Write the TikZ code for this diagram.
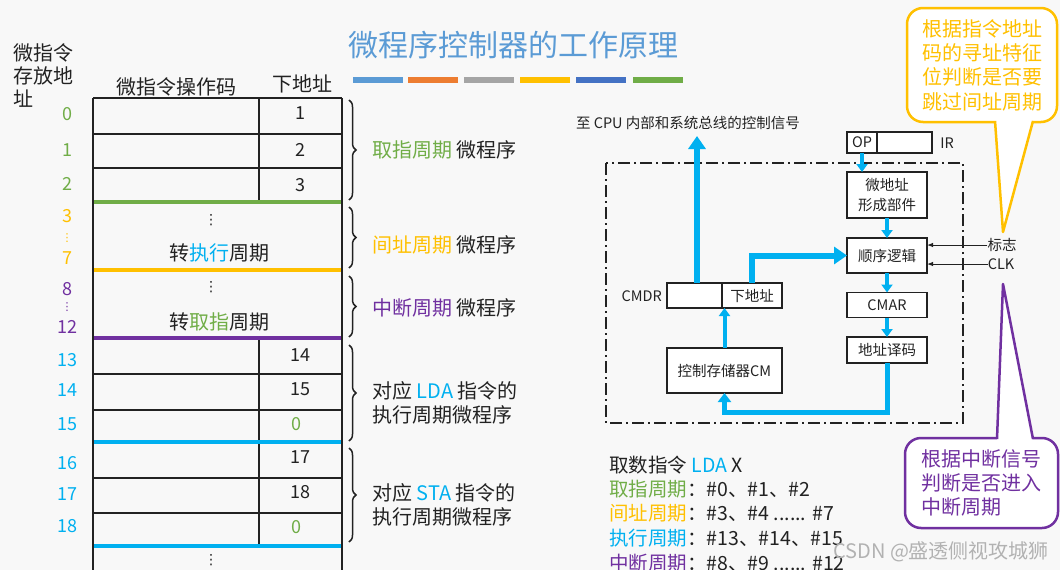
\documentclass[tikz,border=0pt]{standalone}
\usepackage{fontspec}
\setmainfont{Noto Sans CJK SC}
\newfontfamily\symfont{DejaVu Sans}
\usetikzlibrary{arrows.meta, positioning, decorations.pathreplacing}

\definecolor{ink}{HTML}{222222}
\definecolor{cgreen}{HTML}{70AD47}
\definecolor{cyellow}{HTML}{FFC000}
\definecolor{cpurple}{HTML}{7030A0}
\definecolor{cblue}{HTML}{00B0F0}
\definecolor{ctitle}{HTML}{5B9BD5}
\definecolor{corange}{HTML}{ED7D31}
\definecolor{cgrey}{HTML}{A5A5A5}
\definecolor{cnavy}{HTML}{4472C4}
\definecolor{bgc}{HTML}{F8F8F8}

\begin{document}
\begin{tikzpicture}[x=1pt, y=-1pt,
    txt/.style={inner sep=0pt, text=ink, font=\fontsize{20}{24}\selectfont},
    num/.style={inner sep=0pt, font=\fontsize{18}{20}\selectfont},
    small/.style={inner sep=0pt, text=ink, font=\fontsize{14.5}{18}\selectfont},
    dots/.style={inner sep=0pt, font=\symfont\fontsize{#1}{#1}\selectfont},
    blk/.style={draw=ink, line width=1.3pt, fill=white, align=center, inner sep=0pt,
        outer sep=0pt, text=ink, font=\fontsize{14.5}{20}\selectfont},
    bus/.style={draw=cblue, line width=6pt, -{Triangle[length=13pt, width=17pt]}},
    flow/.style={draw=cblue, line width=4pt, -{Triangle[length=8pt, width=11pt]}},
    back/.style={draw=cblue, line width=5pt, -{Triangle[length=9pt, width=13pt]}},
    sig/.style={draw=ink, line width=1pt, -{Latex[length=6pt]}},
    grp/.style={draw=ink, line width=1.5pt, decorate, decoration={brace, amplitude=7pt}},
    callbox/.style={line width=2.5pt, fill=white, rounded corners=16pt, inner sep=0pt,
        align=center, font=\fontsize{20}{24.3}\selectfont}
]
    \useasboundingbox (0,0) rectangle (1060,570);
    \fill[bgc] (0,0) rectangle (1060,570);

    % title
    \node[inner sep=0pt, text=ctitle, font=\fontsize{30}{34}\selectfont] (ttl) at (513,45) {微程序控制器的工作原理};
    \foreach \x/\c in {353/ctitle,408/corange,464/cgrey,520/cyellow,576/cnavy,633/cgreen}
        \fill[\c] (\x,77) rectangle ++(50,6);

    % storage table
    \node[txt, align=left, anchor=west] (adr) at (13,75) {微指令\\[-1pt]存放地\\[-1pt]址};
    \node[txt] (hop) at (176,87) {微指令操作码};
    \node[txt] (hnx) at (302,84) {下地址};

    \foreach \y in {98,134,168,374,410,478,513}
        \draw[line width=1.6pt, ink] (93,\y) -- (342,\y);
    \draw[line width=1.6pt, ink] (93,98) -- (93,580) (342,98) -- (342,580);
    \draw[line width=1.6pt, ink] (259,98) -- (259,202) (259,338) -- (259,546);
    \foreach \y/\c in {202/cgreen,270/cyellow,338/cpurple,442/cblue,546/cblue}
        \draw[line width=4.5pt, \c] (94,\y) -- (341,\y);

    \foreach \y/\t [count=\i] in {113/1,150/2,185/3,355/14,389/15,457/17,492/18}
        \node[num, text=ink] (nx\i) at (300,\y) {\t};
    \node[num, text=cgreen] (nz1) at (296,424) {0};
    \node[num, text=cgreen] (nz2) at (296,527) {0};

    \foreach \y/\t/\c [count=\i] in {114/0/cgreen,150/1/cgreen,184/2/cgreen,216/3/cyellow,
        258/7/cyellow,289/8/cpurple,327/12/cpurple,360/13/cblue,390/14/cblue,424/15/cblue,
        463/16/cblue,494/17/cblue,526/18/cblue}
        \node[num, text=\c] (ad\i) at (67,\y) {\t};
    \node[dots=11, text=cyellow] (av1) at (67,238) {⋮};
    \node[dots=11, text=cpurple] (av2) at (67,307) {⋮};

    \foreach \y [count=\i] in {220,287,560}
        \node[dots=14, text=ink] (dt\i) at (211,\y) {⋮};
    \node[txt] (jx) at (219,253) {转{\color{cblue}执行}周期};
    \node[txt] (jq) at (219,322) {转{\color{cgreen}取指}周期};

    % braces
    \draw[grp] (349,100) -- (349,200);
    \draw[grp] (349,207) -- (349,268);
    \draw[grp] (349,276) -- (349,337);
    \draw[grp] (349,345) -- (349,441);
    \draw[grp] (349,448) -- (349,542);

    \node[txt, anchor=west] (g1) at (372,150) {{\color{cgreen}取指周期} 微程序};
    \node[txt, anchor=west] (g2) at (372,245) {{\color{cyellow}间址周期} 微程序};
    \node[txt, anchor=west] (g3) at (372,308) {{\color{cpurple}中断周期} 微程序};
    \node[txt, anchor=west, align=left] (g4) at (372,403) {对应 {\color{cblue}LDA} 指令的\\执行周期微程序};
    \node[txt, anchor=west, align=left] (g5) at (372,505) {对应 {\color{cblue}STA} 指令的\\执行周期微程序};

    % control unit
    \draw[ink, line width=1.5pt, dash pattern=on 12pt off 4pt on 2pt off 4pt] (606,163) rectangle (963,423);

    \node[small] (sigtxt) at (688,123) {至 CPU 内部和系统总线的控制信号};
    \coordinate (cpu) at (697,136);

    \node[blk, minimum width=30pt, minimum height=21pt] (op) at (862,142.5) {OP};
    \node[blk, minimum width=55pt, minimum height=21pt, anchor=west] (irr) at (op.east) {};
    \node[small] (irl) at (947,143) {IR};

    \node[blk, minimum width=80pt, minimum height=46pt] (maf) at (887,195) {微地址\\形成部件};
    \node[blk, minimum width=80pt, minimum height=35pt] (seq) at (887,255.5) {顺序逻辑};
    \node[blk, minimum width=80pt, minimum height=25pt] (cmar) at (887,305) {CMAR};
    \node[blk, minimum width=80pt, minimum height=26pt] (dec) at (887,350) {地址译码};

    \node[blk, minimum width=55pt, minimum height=25pt] (cmdrl) at (694.5,295.5) {};
    \node[blk, minimum width=60pt, minimum height=25pt, anchor=west] (cmdrr) at (cmdrl.east) {下地址};
    \node[small, anchor=east] (cmdrlbl) at (662,296) {CMDR};
    \node[blk, minimum width=115pt, minimum height=45pt] (cm) at (724.5,370.5) {控制存储器CM};

    \node[small] (flag) at (1002,245) {标志};
    \node[small] (clk) at (1001,264) {CLK};

    \draw[bus] ([xshift=2.5pt]cmdrl.north) -- (cpu);
    \draw[bus] (cmdrr.north) |- (seq.west);
    \draw[flow] (cm.north) -- (cm.north |- cmdrl.south);
    \draw[flow] (op.south) -- (op.south |- maf.north);
    \draw[flow] (maf) -- (seq);
    \draw[flow] (seq) -- (cmar);
    \draw[flow] (cmar) -- (dec);
    \draw[back] (dec.south) -- ++(0,49) -| (cm.south);
    \draw[sig] (flag.west) -- (flag.west -| seq.east);
    \draw[sig] (clk.west) -- (clk.west -| seq.east);

    % example
    \node[txt, anchor=west, font=\fontsize{19.5}{24}\selectfont] (bl1) at (609,465) {取数指令 {\color{cblue}LDA} X};
    \node[txt, anchor=west, font=\fontsize{19.5}{24}\selectfont] (bl2) at (609,489) {{\color{cgreen}取指周期}：\#0、\#1、\#2};
    \node[txt, anchor=west, font=\fontsize{19.5}{24}\selectfont] (bl3) at (609,513) {{\color{cyellow}间址周期}：\#3、\#4 ...... \#7};
    \node[txt, anchor=west, font=\fontsize{19.5}{24}\selectfont] (bl4) at (609,538) {{\color{cblue}执行周期}：\#13、\#14、\#15};
    \node[txt, anchor=west, font=\fontsize{19.5}{24}\selectfont] (bl5) at (609,563) {{\color{cpurple}中断周期}：\#8、\#9 ...... \#12};

    % callouts
    \node[callbox, draw=cyellow, text=cyellow, minimum width=150pt, minimum height=114pt] (cy) at (982,65)
        {根据指令地址\\码的寻址特征\\位判断是否要\\跳过间址周期};
    \coordinate (cyt) at (1003,232);
    \fill[white] (995,118) -- (cyt) -- (1033,118) -- cycle;
    \draw[cyellow, line width=2.5pt, line join=round] (995,121) -- (cyt) -- (1033,121);

    \node[callbox, draw=cpurple, text=cpurple, align=left, minimum width=153pt, minimum height=90pt] (cp) at (981.5,483)
        {根据中断信号\\判断是否进入\\中断周期};
    \coordinate (cpt) at (1003,284);
    \fill[white] (997,442) -- (cpt) -- (1033,442) -- cycle;
    \draw[cpurple, line width=2.5pt, line join=round] (997,439) -- (cpt) -- (1033,439);

    \node[inner sep=0pt, anchor=west, text=gray!60, font=\fontsize{20}{22}\selectfont] (wm) at (833,552) {CSDN @盛透侧视攻城狮};
\end{tikzpicture}
\end{document}
